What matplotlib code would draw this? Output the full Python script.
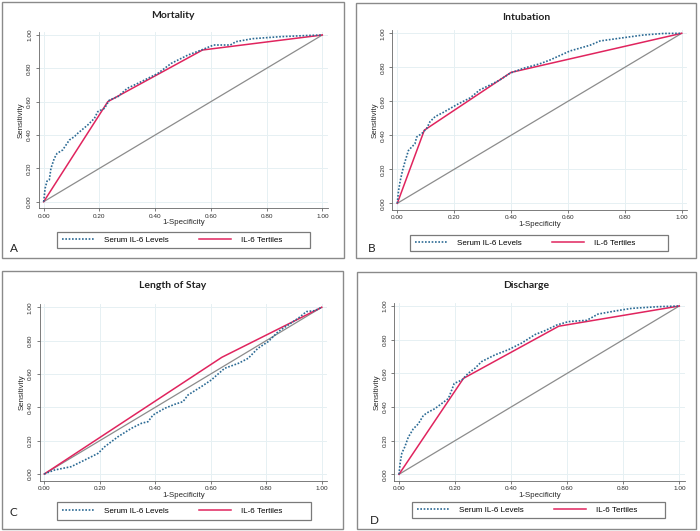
import matplotlib
matplotlib.use('Agg')
import matplotlib.pyplot as plt
from matplotlib.patches import Rectangle

# ROC data (1-specificity, sensitivity)
mort_fpr = [0, 0.005, 0.012, 0.02, 0.026, 0.038, 0.048, 0.068, 0.092, 0.11, 0.122, 0.158, 0.182,
            0.194, 0.218, 0.236, 0.266, 0.30, 0.338, 0.374, 0.41, 0.458, 0.518, 0.56, 0.61, 0.67,
            0.69, 0.75, 0.85, 0.945, 1.0]
mort_tpr = [0, 0.08, 0.124, 0.13, 0.20, 0.26, 0.29, 0.31, 0.37, 0.39, 0.41, 0.46, 0.50,
            0.54, 0.56, 0.61, 0.63, 0.68, 0.71, 0.74, 0.77, 0.83, 0.88, 0.906, 0.94, 0.94,
            0.96, 0.978, 0.99, 0.997, 1.0]
mort_tert_fpr = [0, 0.23, 0.57, 1.0]
mort_tert_tpr = [0, 0.60, 0.91, 1.0]

intub_fpr = [0, 0.004, 0.01, 0.018, 0.027, 0.039, 0.05, 0.062, 0.068, 0.086, 0.103, 0.115, 0.133,
             0.162, 0.209, 0.256, 0.29, 0.326, 0.36, 0.396, 0.443, 0.50, 0.537, 0.607, 0.678,
             0.713, 0.795, 0.865, 0.936, 1.0]
intub_tpr = [0, 0.07, 0.13, 0.19, 0.245, 0.31, 0.33, 0.35, 0.39, 0.41, 0.44, 0.48, 0.51,
             0.535, 0.58, 0.62, 0.667, 0.696, 0.725, 0.765, 0.794, 0.82, 0.843, 0.896, 0.93,
             0.955, 0.974, 0.99, 0.999, 1.0]
intub_tert_fpr = [0, 0.095, 0.40, 1.0]
intub_tert_tpr = [0, 0.43, 0.77, 1.0]

los_fpr = [0, 0.037, 0.097, 0.146, 0.194, 0.218, 0.266, 0.314, 0.35, 0.374, 0.392, 0.434, 0.47,
           0.50, 0.518, 0.566, 0.602, 0.65, 0.70, 0.735, 0.77, 0.807, 0.843, 0.879, 0.915,
           0.945, 0.975, 1.0]
los_tpr = [0, 0.024, 0.044, 0.084, 0.124, 0.164, 0.224, 0.274, 0.304, 0.314, 0.354, 0.394, 0.418,
           0.434, 0.474, 0.524, 0.564, 0.634, 0.664, 0.694, 0.754, 0.794, 0.854, 0.894, 0.934,
           0.974, 0.98, 1.0]
los_tert_fpr = [0, 0.64, 1.0]
los_tert_tpr = [0, 0.70, 1.0]

disch_fpr = [0, 0.004, 0.01, 0.021, 0.033, 0.051, 0.069, 0.087, 0.105, 0.128, 0.152, 0.176, 0.188,
             0.197, 0.224, 0.247, 0.271, 0.295, 0.343, 0.39, 0.438, 0.485, 0.52, 0.563, 0.604,
             0.67, 0.71, 0.77, 0.83, 0.925, 1.0]
disch_tpr = [0, 0.065, 0.125, 0.164, 0.22, 0.27, 0.30, 0.35, 0.37, 0.39, 0.42, 0.45, 0.50,
             0.54, 0.56, 0.60, 0.63, 0.67, 0.71, 0.74, 0.78, 0.83, 0.853, 0.887, 0.907,
             0.915, 0.952, 0.97, 0.986, 0.996, 1.0]
disch_tert_fpr = [0, 0.23, 0.57, 1.0]
disch_tert_tpr = [0, 0.57, 0.88, 1.0]

titles = ['Mortality', 'Intubation', 'Length of Stay', 'Discharge']
letters = ['A', 'B', 'C', 'D']
ticks = [0, 0.2, 0.4, 0.6, 0.8, 1.0]
tick_labels = ['0.00', '0.20', '0.40', '0.60', '0.80', '1.00']
legend_labels = ['Serum IL-6 Levels', 'IL-6 Tertiles']

serum = [(mort_fpr, mort_tpr), (intub_fpr, intub_tpr), (los_fpr, los_tpr), (disch_fpr, disch_tpr)]
tert = [(mort_tert_fpr, mort_tert_tpr), (intub_tert_fpr, intub_tert_tpr),
        (los_tert_fpr, los_tert_tpr), (disch_tert_fpr, disch_tert_tpr)]

W, H = 700, 531
fig = plt.figure(figsize=(7, 5.31), dpi=100)
fig.patch.set_facecolor('white')

def fx(px):
    return px / W

def fy(py):
    return 1 - py / H

# pixel layout of each panel: box, data 0/1 positions, legend box, letter position
panels = [
    dict(box=(2, 2, 344, 258), x0=43.7, x1=322.3, y0=201.7, y1=35, leg=(57, 232, 310, 248), let=(10, 248)),
    dict(box=(356, 3, 696, 258), x0=397.3, x1=681.7, y0=203.3, y1=33.3, leg=(410, 235, 668, 251), let=(368, 248)),
    dict(box=(2, 271, 343, 529), x0=44.3, x1=321.7, y0=474, y1=307.3, leg=(57, 502, 311, 520), let=(9, 513)),
    dict(box=(357, 272, 696, 529), x0=399, x1=679.3, y0=474.3, y1=306, leg=(412, 502, 665, 518), let=(370, 520)),
]

xmin, xmax = -0.017, 1.02
ymin, ymax = -0.04, 1.02
blue = '#2b6a94'
red = '#e0245e'
txt = '#2a2a2a'

for i, p in enumerate(panels):
    bx0, by0, bx1, by1 = p['box']
    fig.patches.append(Rectangle((fx(bx0), fy(by1)), fx(bx1 - bx0), (by1 - by0) / H,
                                 transform=fig.transFigure, fill=False, edgecolor='#8a8a8a', lw=1.0))
    sx = p['x1'] - p['x0']
    sy = p['y0'] - p['y1']
    left = p['x0'] + xmin * sx
    right = p['x0'] + xmax * sx
    bottom = p['y0'] - ymin * sy
    top = p['y0'] - ymax * sy
    ax = fig.add_axes([fx(left), fy(bottom), (right - left) / W, (bottom - top) / H])
    ax.set_xlim(xmin, xmax)
    ax.set_ylim(ymin, ymax)
    for v in ticks:
        ax.axhline(v, color='#e6f0f3', lw=0.7, zorder=0)
        ax.axvline(v, color='#e6f0f3', lw=0.7, zorder=0)
    ax.plot([0, 1], [0, 1], color='#8c8c8c', lw=0.9, zorder=1)
    l1, = ax.plot(serum[i][0], serum[i][1], color=blue, lw=1.2, ls=(0, (1, 1)), zorder=3)
    l2, = ax.plot(tert[i][0], tert[i][1], color=red, lw=1.1, zorder=2)
    for s in ['top', 'right']:
        ax.spines[s].set_visible(False)
    for s in ['left', 'bottom']:
        ax.spines[s].set_color('#666666')
        ax.spines[s].set_linewidth(0.6)
    ax.set_xticks(ticks)
    ax.set_xticklabels(tick_labels, fontsize=4.6, family='Liberation Sans', color=txt)
    ax.set_yticks(ticks)
    ax.set_yticklabels(tick_labels, fontsize=4.6, family='Liberation Sans', color=txt,
                       rotation=90, va='center')
    ax.tick_params(axis='x', direction='out', length=2.5, width=0.6, color='#666666', pad=1.2)
    ax.tick_params(axis='y', direction='out', length=2.5, width=0.6, color='#666666', pad=2.5)
    ax.set_xlabel('1-Specificity', fontsize=5.7, family='Liberation Sans', color=txt, labelpad=0.5)
    ax.set_ylabel('Sensitivity', fontsize=5.7, family='Liberation Sans', color=txt, labelpad=1.5)

    fig.text(fx((bx0 + bx1) / 2), fy(by0 + 14), titles[i], ha='center', va='center',
             fontsize=7.5, family='Lato', weight='bold', color='#222222')
    fig.text(fx(p['let'][0]), fy(p['let'][1]), letters[i], ha='left', va='center',
             fontsize=8.5, family='Lato', color='#222222')

    lx0, ly0, lx1, ly1 = p['leg']
    fig.patches.append(Rectangle((fx(lx0), fy(ly1)), fx(lx1 - lx0), (ly1 - ly0) / H,
                                 transform=fig.transFigure, fill=False, edgecolor='#7a7a7a', lw=0.9))
    fig.legend([l1, l2], legend_labels, loc='center left',
               bbox_to_anchor=(fx(lx0 + 5), fy((ly0 + ly1) / 2)), ncol=2, frameon=False,
               borderpad=0, borderaxespad=0, handlelength=4.0, handletextpad=1.2,
               columnspacing=3.8, prop={'family': 'Liberation Sans', 'size': 5.8})

fig.savefig('out.png', dpi=100, facecolor='white')
